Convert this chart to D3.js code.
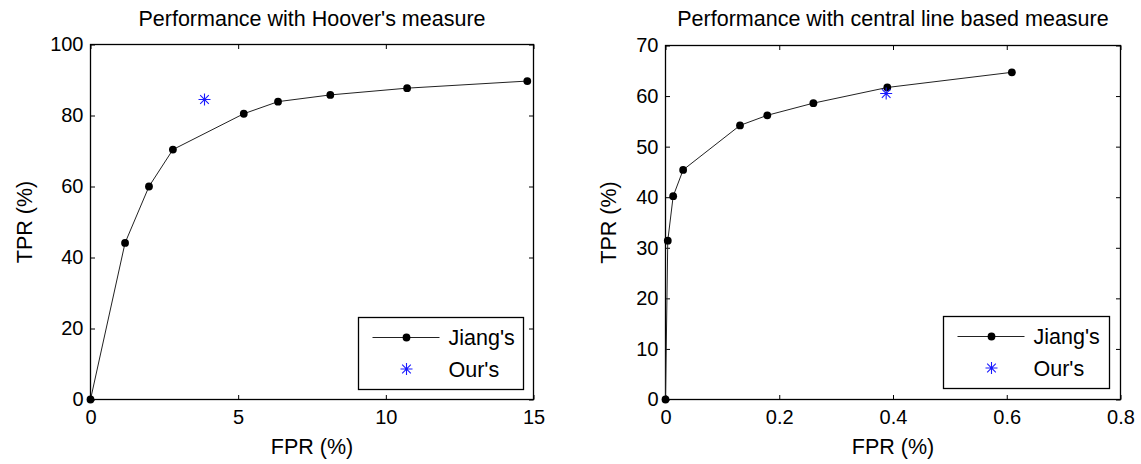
<!DOCTYPE html>
<html>
<head>
<meta charset="utf-8">
<script src="https://cdn.jsdelivr.net/npm/d3@7"></script>
<style>
  html, body { margin: 0; padding: 0; background: #fff; }
  svg { display: block; font-family: "Liberation Sans", Arial, Helvetica, sans-serif; }
</style>
</head>
<body>
<div id="chart"></div>
<script>
// Hoover's measure panel
const hooverFpr = [0, 1.17, 1.98, 2.79, 5.19, 6.35, 8.12, 10.72, 14.79];
const hooverTpr = [0, 44.1, 60.0, 70.4, 80.5, 83.9, 85.8, 87.7, 89.7];
const hooverOurs = [3.86, 84.5];
const hooverXTicks = [0, 5, 10, 15];
const hooverYTicks = [0, 20, 40, 60, 80, 100];

// central line based measure panel
const centralFpr = [0, 0.004, 0.0135, 0.031, 0.131, 0.179, 0.260, 0.390, 0.609];
const centralTpr = [0, 31.4, 40.2, 45.4, 54.2, 56.2, 58.6, 61.7, 64.7];
const centralOurs = [0.388, 60.5];
const centralXTicks = [0, 0.2, 0.4, 0.6, 0.8];
const centralYTicks = [0, 10, 20, 30, 40, 50, 60, 70];

const seriesNames = ["Jiang's", "Our's"];

const width = 1141, height = 464;
const tickLen = 4.5;

const svg = d3.select("#chart").append("svg")
    .attr("width", width)
    .attr("height", height);

function asterisk(r) {
    const d = r * 0.72;
    return `M${-r},0L${r},0M0,${-r}L0,${r}M${-d},${-d}L${d},${d}M${-d},${d}L${d},${-d}`;
}

function drawPanel(opts) {
    const { box, title, fpr, tpr, ours, xTicks, yTicks, xFormat, legend, yLabelX } = opts;
    const g = svg.append("g");

    const x = d3.scaleLinear().domain(d3.extent(xTicks)).range([box.left, box.right]);
    const y = d3.scaleLinear().domain(d3.extent(yTicks)).range([box.bottom, box.top]);

    // axes frame
    g.append("rect")
        .attr("x", box.left).attr("y", box.top)
        .attr("width", box.right - box.left).attr("height", box.bottom - box.top)
        .attr("fill", "none").attr("stroke", "#000").attr("stroke-width", 1.3);

    const styleAxis = (sel) => {
        sel.select(".domain").remove();
        sel.selectAll("line").attr("stroke", "#000");
        sel.selectAll("text").attr("font-size", 20).attr("fill", "#000")
            .attr("font-family", "Liberation Sans, Arial, sans-serif");
    };

    g.append("g").attr("transform", `translate(0,${box.bottom})`)
        .call(d3.axisBottom(x).tickValues(xTicks).tickFormat(xFormat).tickSizeInner(-tickLen).tickSizeOuter(0).tickPadding(10))
        .call(styleAxis);
    g.append("g").attr("transform", `translate(0,${box.top})`)
        .call(d3.axisTop(x).tickValues(xTicks).tickFormat("").tickSizeInner(-tickLen).tickSizeOuter(0))
        .call(styleAxis);
    g.append("g").attr("transform", `translate(${box.left},0)`)
        .call(d3.axisLeft(y).tickValues(yTicks).tickFormat(d3.format("d")).tickSizeInner(-tickLen).tickSizeOuter(0).tickPadding(7))
        .call(styleAxis);
    g.append("g").attr("transform", `translate(${box.right},0)`)
        .call(d3.axisRight(y).tickValues(yTicks).tickFormat("").tickSizeInner(-tickLen).tickSizeOuter(0))
        .call(styleAxis);

    // title and labels
    g.append("text")
        .attr("x", (box.left + box.right) / 2).attr("y", 26)
        .attr("text-anchor", "middle").attr("font-size", 21.5).text(title);
    g.append("text")
        .attr("x", (box.left + box.right) / 2).attr("y", 454)
        .attr("text-anchor", "middle").attr("font-size", 21.5).text("FPR (%)");
    g.append("text")
        .attr("transform", `translate(${yLabelX},${(box.top + box.bottom) / 2}) rotate(-90)`)
        .attr("text-anchor", "middle").attr("font-size", 21.5).text("TPR (%)");

    // Jiang's curve
    const points = fpr.map((v, i) => [v, tpr[i]]);
    g.append("path")
        .datum(points)
        .attr("fill", "none").attr("stroke", "#222").attr("stroke-width", 1)
        .attr("d", d3.line().x((d) => x(d[0])).y((d) => y(d[1])));
    g.selectAll(".dot").data(points).join("circle")
        .attr("class", "dot")
        .attr("cx", (d) => x(d[0])).attr("cy", (d) => y(d[1]))
        .attr("r", 3.9).attr("fill", "#000");

    // our result
    g.append("path")
        .attr("transform", `translate(${x(ours[0])},${y(ours[1])})`)
        .attr("d", asterisk(6))
        .attr("stroke", "#1a1aff").attr("stroke-width", 1.1).attr("fill", "none");

    // legend
    const lg = g.append("g");
    lg.append("rect")
        .attr("x", legend.left).attr("y", legend.top)
        .attr("width", legend.right - legend.left).attr("height", legend.bottom - legend.top)
        .attr("fill", "#fff").attr("stroke", "#000").attr("stroke-width", 1.3);
    const row1 = legend.top + 20, row2 = legend.top + 51.5;
    lg.append("line")
        .attr("x1", legend.left + 14).attr("x2", legend.left + 81)
        .attr("y1", row1).attr("y2", row1)
        .attr("stroke", "#222").attr("stroke-width", 1);
    lg.append("circle")
        .attr("cx", legend.left + 48).attr("cy", row1).attr("r", 3.9).attr("fill", "#000");
    lg.append("path")
        .attr("transform", `translate(${legend.left + 48},${row2})`)
        .attr("d", asterisk(6))
        .attr("stroke", "#1a1aff").attr("stroke-width", 1.1).attr("fill", "none");
    lg.selectAll(".ltxt").data(seriesNames).join("text")
        .attr("class", "ltxt")
        .attr("x", legend.left + 90)
        .attr("y", (d, i) => (i === 0 ? row1 : row2) + 7.5)
        .attr("font-size", 21.5)
        .text((d) => d);
}

drawPanel({
    box: { left: 90.5, right: 533.5, top: 44.5, bottom: 399.5 },
    title: "Performance with Hoover's measure",
    fpr: hooverFpr, tpr: hooverTpr, ours: hooverOurs,
    xTicks: hooverXTicks, yTicks: hooverYTicks,
    xFormat: d3.format("d"),
    legend: { left: 358.5, right: 523.5, top: 317.5, bottom: 389.5 },
    yLabelX: 32
});

drawPanel({
    box: { left: 665.5, right: 1120.5, top: 45.5, bottom: 399.5 },
    title: "Performance with central line based measure",
    fpr: centralFpr, tpr: centralTpr, ours: centralOurs,
    xTicks: centralXTicks, yTicks: centralYTicks,
    xFormat: (d) => (d === 0 ? "0" : String(d)),
    legend: { left: 943.5, right: 1109.5, top: 316.5, bottom: 388.5 },
    yLabelX: 616
});
</script>
</body>
</html>
